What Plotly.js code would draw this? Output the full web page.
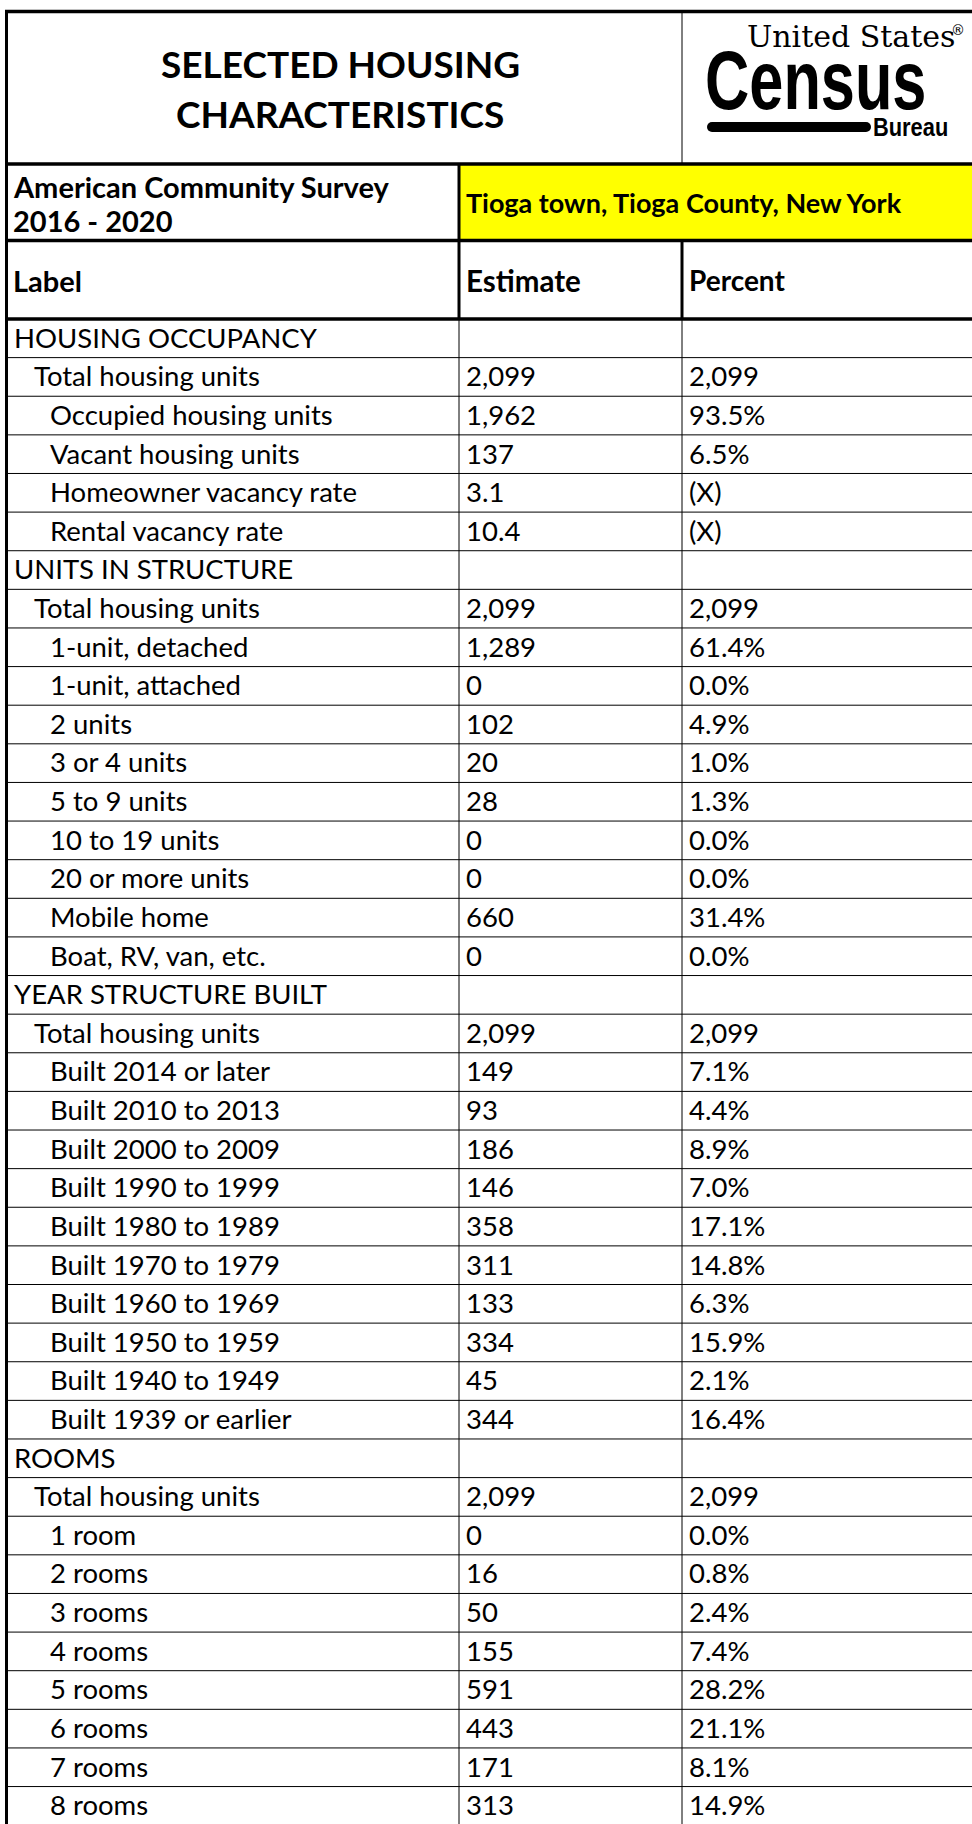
<!DOCTYPE html>
<html>
<head>
<meta charset="utf-8">
<script src="https://cdn.plot.ly/plotly-3.0.1.min.js"></script>
<style>
  html, body { margin: 0; padding: 0; background: #ffffff; }
  #chart { width: 972px; height: 1824px; }
</style>
</head>
<body>
<div id="chart"></div>
<script>
// ---------------- DATA ----------------
const titleLines = ["SELECTED HOUSING", "CHARACTERISTICS"];
const surveyLines = ["American Community Survey", "2016 - 2020"];
const geography = "Tioga town, Tioga County, New York";
const columnHeaders = ["Label", "Estimate", "Percent"];
const logoTexts = ["United States", "®", "Census", "Bureau"];

const labels = [
  "HOUSING OCCUPANCY",
  "Total housing units",
  "Occupied housing units",
  "Vacant housing units",
  "Homeowner vacancy rate",
  "Rental vacancy rate",
  "UNITS IN STRUCTURE",
  "Total housing units",
  "1-unit, detached",
  "1-unit, attached",
  "2 units",
  "3 or 4 units",
  "5 to 9 units",
  "10 to 19 units",
  "20 or more units",
  "Mobile home",
  "Boat, RV, van, etc.",
  "YEAR STRUCTURE BUILT",
  "Total housing units",
  "Built 2014 or later",
  "Built 2010 to 2013",
  "Built 2000 to 2009",
  "Built 1990 to 1999",
  "Built 1980 to 1989",
  "Built 1970 to 1979",
  "Built 1960 to 1969",
  "Built 1950 to 1959",
  "Built 1940 to 1949",
  "Built 1939 or earlier",
  "ROOMS",
  "Total housing units",
  "1 room",
  "2 rooms",
  "3 rooms",
  "4 rooms",
  "5 rooms",
  "6 rooms",
  "7 rooms",
  "8 rooms"
];

const levels = [
  0, 1, 2, 2, 2, 2,
  0, 1, 2, 2, 2, 2, 2, 2, 2, 2, 2,
  0, 1, 2, 2, 2, 2, 2, 2, 2, 2, 2, 2,
  0, 1, 2, 2, 2, 2, 2, 2, 2, 2
];

const estimates = [
  "", "2,099", "1,962", "137", "3.1", "10.4",
  "", "2,099", "1,289", "0", "102", "20", "28", "0", "0", "660", "0",
  "", "2,099", "149", "93", "186", "146", "358", "311", "133", "334", "45", "344",
  "", "2,099", "0", "16", "50", "155", "591", "443", "171", "313"
];

const percents = [
  "", "2,099", "93.5%", "6.5%", "(X)", "(X)",
  "", "2,099", "61.4%", "0.0%", "4.9%", "1.0%", "1.3%", "0.0%", "0.0%", "31.4%", "0.0%",
  "", "2,099", "7.1%", "4.4%", "8.9%", "7.0%", "17.1%", "14.8%", "6.3%", "15.9%", "2.1%", "16.4%",
  "", "2,099", "0.0%", "0.8%", "2.4%", "7.4%", "28.2%", "21.1%", "8.1%", "14.9%"
];

// ---------------- LAYOUT CONSTANTS ----------------
const W = 972, H = 1824;
const ROW_TOP = 319;      // pixel top of first data row
const ROW_H = 38.62;      // pixel height of a data row
const X_LEFT = 6.5;       // left outer border
const X_COL1 = 459;       // Label | Estimate
const X_COL2 = 682;       // Estimate | Percent
const INDENT = [13, 33, 49];
const X_EST_TXT = 465, X_PCT_TXT = 688;

const Y_TOP = 11.5, Y_TITLE_BOT = 164, Y_ACS_BOT = 240.5, Y_HDR_BOT = 319;

const FONT = "Lato, 'Open Sans', sans-serif";
const LOGO_SANS = "'Liberation Sans', Arial, sans-serif";
const DATA_SIZE = 27.5, TITLE_SIZE = 37;

const nRows = labels.length;

const shapes = [];
const annotations = [];
const squeeze = {};   // annotation index -> horizontal scale

function hline(y, x0, x1, w, yref) {
  shapes.push({type: 'line', xref: 'x', yref: yref, x0: x0, x1: x1, y0: y, y1: y,
               line: {color: '#000', width: w}});
}
function vline(x, y0, y1, w, yref) {
  shapes.push({type: 'line', xref: 'x', yref: yref, x0: x, x1: x, y0: y0, y1: y1,
               line: {color: '#000', width: w}});
}
function txt(text, x, y, yref, size, bold, anchor, fam) {
  annotations.push({
    text: bold ? '<b>' + text + '</b>' : text,
    x: x, y: y, xref: 'x', yref: yref, showarrow: false,
    xanchor: anchor || 'left', yanchor: 'middle',
    font: {family: fam || FONT, size: size, color: '#000'},
    borderpad: 0
  });
  return annotations.length - 1;
}

// yellow geography cell (pixel axis y2)
shapes.push({type: 'rect', xref: 'x', yref: 'y2', x0: X_COL1, x1: W + 5, y0: Y_TITLE_BOT, y1: Y_ACS_BOT,
             fillcolor: '#FFFF00', line: {width: 0}, layer: 'below'});

// data row grid lines (row axis y: row i spans [i, i+1])
for (let i = 1; i < nRows; i++) hline(i, X_LEFT, W + 5, 1, 'y');
vline(X_COL1, 0, nRows, 1, 'y');
vline(X_COL2, 0, nRows, 1, 'y');

// header structure (pixel axis y2)
vline(X_COL2, Y_TOP, Y_TITLE_BOT, 1, 'y2');            // logo divider
vline(X_COL1, Y_TITLE_BOT, Y_HDR_BOT, 3, 'y2');
vline(X_COL2, Y_ACS_BOT, Y_HDR_BOT, 3, 'y2');
hline(Y_TOP, X_LEFT - 1.5, W + 5, 3.5, 'y2');
hline(Y_TITLE_BOT, X_LEFT - 1.5, W + 5, 3.5, 'y2');
hline(Y_ACS_BOT, X_LEFT - 1.5, W + 5, 3.5, 'y2');
hline(Y_HDR_BOT, X_LEFT - 1.5, W + 5, 3.5, 'y2');
vline(X_LEFT, Y_TOP, H + 5, 3, 'y2');

// title
txt(titleLines[0], 340, 63, 'y2', TITLE_SIZE, true, 'center');
txt(titleLines[1], 340, 113, 'y2', TITLE_SIZE, true, 'center');

// logo
txt(logoTexts[0], 746, 36, 'y2', 30, false, 'left', "'DejaVu Serif', serif");
txt(logoTexts[1], 950, 30, 'y2', 14, false, 'left', "'DejaVu Sans', sans-serif");
squeeze[txt(logoTexts[2], 704, 80, 'y2', 84, true, 'left', LOGO_SANS)] = 0.73;
shapes.push({type: 'line', xref: 'x', yref: 'y2', x0: 712, x1: 866, y0: 127, y1: 127, line: {color: '#000', width: 10}});
shapes.push({type: 'circle', xref: 'x', yref: 'y2', x0: 707, x1: 717, y0: 122, y1: 132, fillcolor: '#000', line: {width: 0}});
shapes.push({type: 'circle', xref: 'x', yref: 'y2', x0: 861, x1: 871, y0: 122, y1: 132, fillcolor: '#000', line: {width: 0}});
squeeze[txt(logoTexts[3], 872, 127, 'y2', 26, true, 'left', LOGO_SANS)] = 0.84;

// survey + geography
txt(surveyLines[0], 12, 186, 'y2', 29, true);
txt(surveyLines[1], 12, 220, 'y2', 29, true);
txt(geography, X_EST_TXT, 202, 'y2', 27, true);

// column headers
txt(columnHeaders[0], 12, 280, 'y2', 29, true);
txt(columnHeaders[1], X_EST_TXT, 280, 'y2', 29.5, true);
txt(columnHeaders[2], X_PCT_TXT, 280, 'y2', 28, true);

// data rows
for (let i = 0; i < nRows; i++) {
  const yc = i + 0.47;
  txt(labels[i], INDENT[levels[i]], yc, 'y', DATA_SIZE, false);
  if (estimates[i] !== "") txt(estimates[i], X_EST_TXT, yc, 'y', DATA_SIZE, false);
  if (percents[i] !== "") txt(percents[i], X_PCT_TXT, yc, 'y', DATA_SIZE, false);
}

const layout = {
  width: W, height: H,
  margin: {l: 0, r: 0, t: 0, b: 0, pad: 0},
  paper_bgcolor: '#ffffff', plot_bgcolor: '#ffffff',
  showlegend: false,
  xaxis: {range: [0, W], visible: false, fixedrange: true},
  yaxis: {range: [(H - ROW_TOP) / ROW_H, -ROW_TOP / ROW_H], visible: false, fixedrange: true},
  yaxis2: {range: [H, 0], overlaying: 'y', visible: false, fixedrange: true},
  shapes: shapes,
  annotations: annotations
};

const traces = [
  {type: 'scatter', x: [], y: [], mode: 'markers', hoverinfo: 'skip', showlegend: false}
];

Plotly.newPlot('chart', traces, layout, {displayModeBar: false, staticPlot: true}).then(function () {
  // condense the heavy logo wordmarks horizontally (narrow font not installed)
  const groups = document.querySelectorAll('#chart g.annotation');
  Object.keys(squeeze).forEach(function (k) {
    const g = groups[+k];
    if (!g) return;
    const t = g.querySelector('text.annotation-text');
    if (!t) return;
    const bb = t.getBBox();
    const s = squeeze[k];
    t.setAttribute('transform', 'translate(' + bb.x + ',0) scale(' + s + ',1) translate(' + (-bb.x) + ',0)');
  });
});
</script>
</body>
</html>
